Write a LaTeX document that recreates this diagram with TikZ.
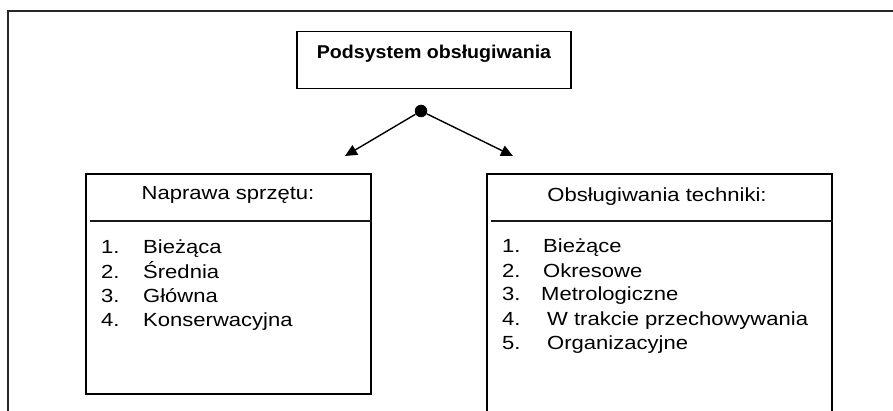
\documentclass[tikz,border=0pt]{standalone}
\usepackage{fontspec}
\setmainfont{Liberation Sans}
\usepackage{graphicx}
\usetikzlibrary{arrows.meta}

\tikzset{
  frameline/.style={line width=2pt, draw=black!85},
  box/.style={draw, line width=1.6pt, rectangle, inner sep=0pt},
  divider/.style={line width=1.5pt, draw=black!90},
  label/.style={anchor=base west, inner sep=0pt,
    font=\fontsize{19}{23}\selectfont},
  heading/.style={anchor=base, inner sep=0pt,
    font=\fontsize{18.5}{22}\selectfont\bfseries},
  link/.style={line width=1.4pt, -{Triangle[length=12pt,width=11pt]}},
}
\newcommand{\wide}[1]{\scalebox{1.16}[1]{#1}}

\begin{document}
\begin{tikzpicture}[x=1pt, y=-1pt]
  \useasboundingbox (0,0) rectangle (893,411);
  \clip (0,0) rectangle (893,411);

  % outer frame (open at right and bottom)
  \draw[frameline] (8,411) -- (8,11) -- (893,11);

  % top box
  \node[box, minimum width=274pt, minimum height=57pt] (top) at (434,60) {};
  \node[heading] (toptitle) at (434,58.5) {\scalebox{1.06}[1]{Podsystem obsługiwania}};

  % branching point and arrows
  \node[circle, fill, inner sep=0pt, minimum size=12.5pt] (hub) at (421,111) {};
  \coordinate (lt) at (345,156);
  \coordinate (rt) at (513,156);
  \draw[link] (hub) -- (lt);
  \draw[link] (hub) -- (rt);

  % left box
  \node[box, anchor=north west, minimum width=285pt, minimum height=220pt] (lbox) at (85,173) {};
  \node[label, anchor=base] (ltitle) at (228,200) {\wide{Naprawa sprzętu:}};
  \coordinate (ldl) at (90,221);
  \draw[divider] (ldl) -- (ldl -| lbox.east);
  \node[label] (l1n) at (101,254) {\wide{1.}};
  \node[label] (l1) at (143,254) {\wide{Bieżąca}};
  \node[label] (l2n) at (101,278.2) {\wide{2.}};
  \node[label] (l2) at (143,278.2) {\wide{Średnia}};
  \node[label] (l3n) at (101,302.4) {\wide{3.}};
  \node[label] (l3) at (143,302.4) {\wide{Główna}};
  \node[label] (l4n) at (101,326.6) {\wide{4.}};
  \node[label] (l4) at (143,326.6) {\wide{Konserwacyjna}};

  % right box (runs past the lower edge)
  \node[box, anchor=north west, minimum width=345pt, minimum height=260pt] (rbox) at (486,173) {};
  \node[label, anchor=base] (rtitle) at (657,202) {\wide{Obsługiwania techniki:}};
  \coordinate (rdl) at (491,221);
  \draw[divider] (rdl) -- (rdl -| rbox.east);
  \node[label] (r1n) at (502,253) {\wide{1.}};
  \node[label] (r1) at (543,253) {\wide{Bieżące}};
  \node[label] (r2n) at (502,277) {\wide{2.}};
  \node[label] (r2) at (543,277) {\wide{Okresowe}};
  \node[label] (r3n) at (502,301) {\wide{3.}};
  \node[label] (r3) at (541,301) {\wide{Metrologiczne}};
  \node[label] (r4n) at (502,325) {\wide{4.}};
  \node[label] (r4) at (547,325) {\wide{W trakcie przechowywania}};
  \node[label] (r5n) at (502,349) {\wide{5.}};
  \node[label] (r5) at (547,349) {\wide{Organizacyjne}};
\end{tikzpicture}
\end{document}
